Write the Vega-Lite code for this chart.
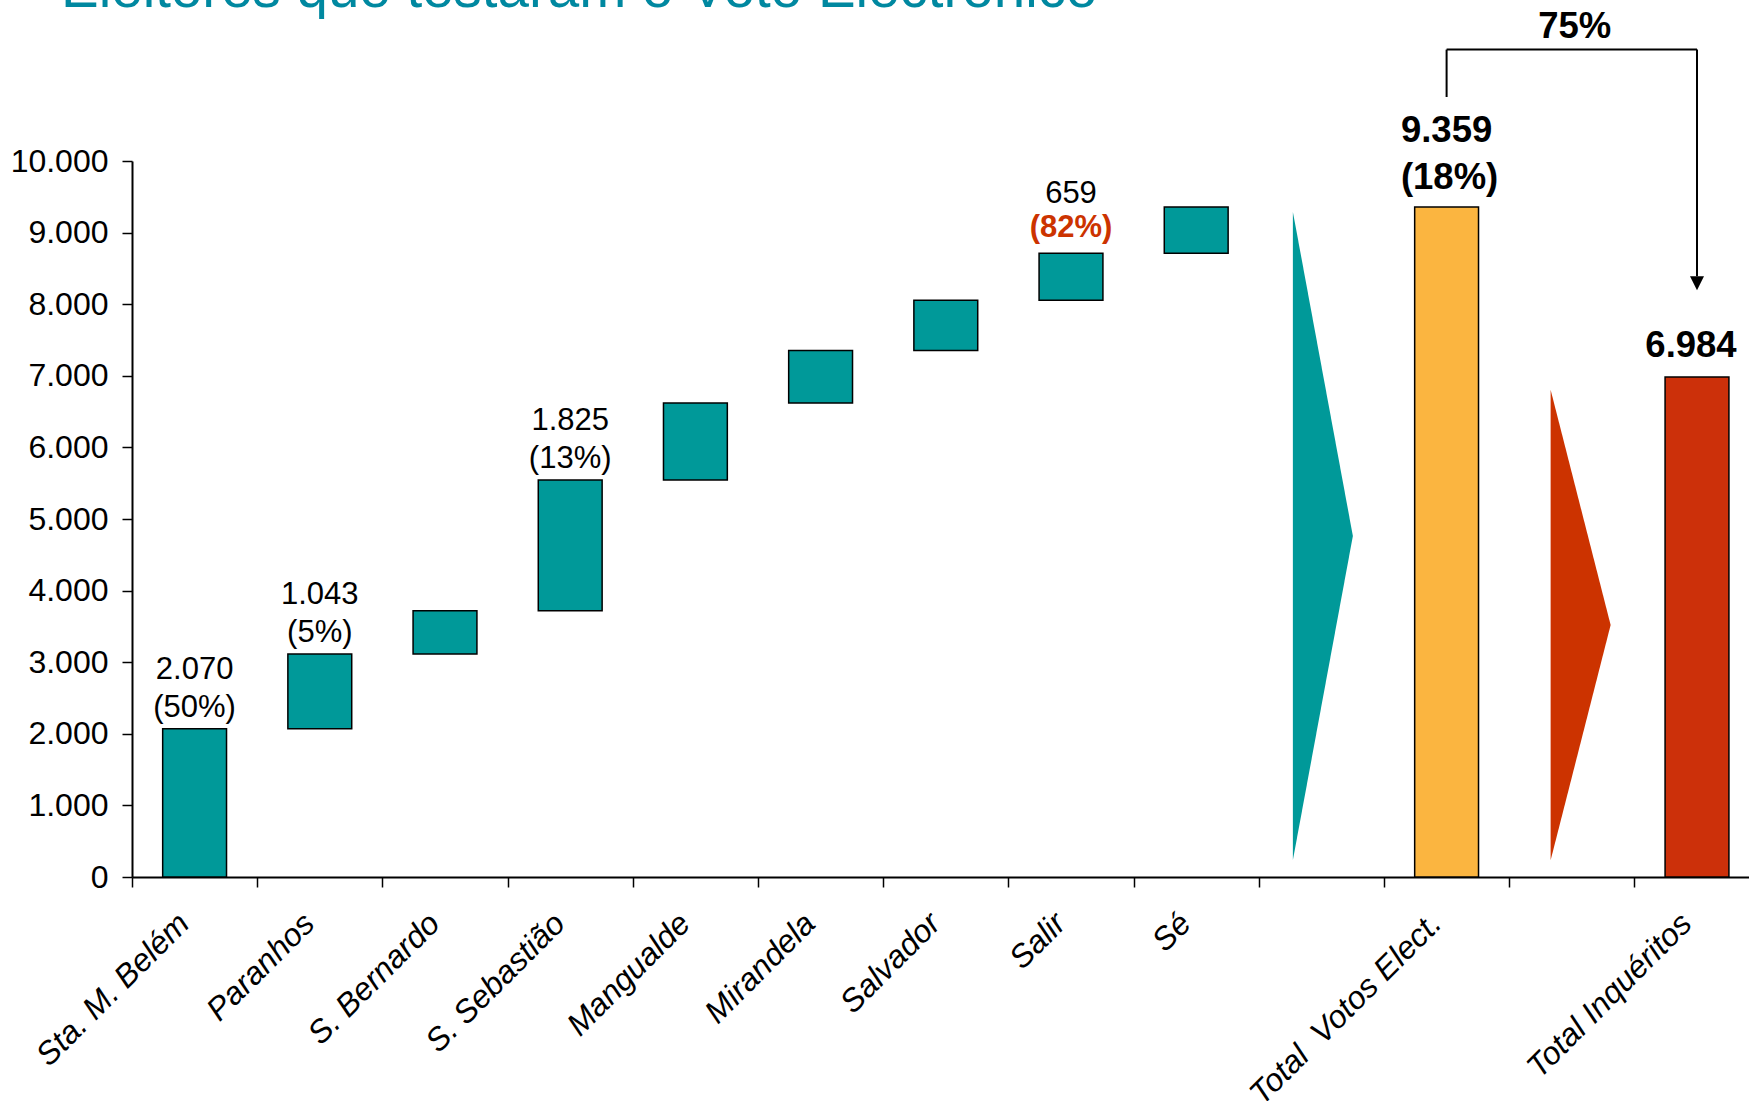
{
  "$schema": "https://vega.github.io/schema/vega-lite/v6.json",
  "autosize": "none",
  "width": 1617,
  "height": 716,
  "padding": {"left": 132, "top": 161, "right": 0, "bottom": 224},
  "background": "white",
  "title": {
    "text": "Eleitores que testaram o Voto Electrónico",
    "anchor": "start",
    "frame": "group",
    "dx": -71,
    "offset": -9,
    "fontSize": 56.5,
    "font": "Liberation Sans",
    "fontWeight": "normal",
    "color": "#0088A0"
  },
  "datasets": {
    "bars": [
      {"cat": "Sta. M. Belém", "start": 0, "end": 2070, "kind": "Distrito", "v": "2.070", "p": "(50%)"},
      {"cat": "Paranhos", "start": 2070, "end": 3113, "kind": "Distrito", "v": "1.043", "p": "(5%)"},
      {"cat": "S. Bernardo", "start": 3113, "end": 3720, "kind": "Distrito"},
      {"cat": "S. Sebastião", "start": 3720, "end": 5545, "kind": "Distrito", "v": "1.825", "p": "(13%)"},
      {"cat": "Mangualde", "start": 5545, "end": 6620, "kind": "Distrito"},
      {"cat": "Mirandela", "start": 6620, "end": 7353, "kind": "Distrito"},
      {"cat": "Salvador", "start": 7353, "end": 8054, "kind": "Distrito"},
      {"cat": "Salir", "start": 8054, "end": 8713, "kind": "Distrito", "v": "659", "p": "(82%)"},
      {"cat": "Sé", "start": 8713, "end": 9359, "kind": "Distrito"},
      {"cat": "Total \u00a0Votos Elect.", "start": 0, "end": 9359, "kind": "Total Votos", "v": "9.359", "p": "(18%)"},
      {"cat": "Total Inquéritos", "start": 0, "end": 6984, "kind": "Total Inquéritos", "v": "6.984"}
    ],
    "arrows": [
      {"cat": " ", "mid": 4763},
      {"cat": "  ", "mid": 3519}
    ],
    "bracket": [
      {"from": "Total \u00a0Votos Elect.", "to": "Total \u00a0Votos Elect.", "y1": 10894, "y2": 11556},
      {"from": "Total \u00a0Votos Elect.", "to": "Total Inquéritos", "y1": 11556, "y2": 11556},
      {"from": "Total Inquéritos", "to": "Total Inquéritos", "y1": 11556, "y2": 8390}
    ],
    "arrowhead": [{"cat": "Total Inquéritos", "y": 8292}],
    "ratio": [{"cat": "  ", "y": 11867, "t": "75%"}]
  },
  "layer": [
    {
      "data": {"name": "bars"},
      "mark": {"type": "bar", "stroke": "black", "strokeWidth": 1.5, "width": {"band": 0.51}},
      "encoding": {
        "x": {
          "field": "cat",
          "type": "nominal",
          "sort": null,
          "scale": {
            "domain": ["Sta. M. Belém", "Paranhos", "S. Bernardo", "S. Sebastião", "Mangualde", "Mirandela", "Salvador", "Salir", "Sé", " ", "Total \u00a0Votos Elect.", "  ", "Total Inquéritos"],
            "range": [0, 1627.6],
            "paddingInner": 0,
            "paddingOuter": 0
          },
          "axis": {
            "title": null,
            "tickBand": "extent",
            "labelAngle": -45,
            "labelAlign": "right",
            "labelBaseline": "middle",
            "labelPadding": 31,
            "labelOffset": -11,
            "labelFontSize": 32,
            "labelFontStyle": "italic",
            "labelFont": "Liberation Sans",
            "labelColor": "black",
            "labelLimit": 0,
            "labelOverlap": false,
            "domainColor": "black",
            "domainWidth": 2,
            "tickColor": "black",
            "tickWidth": 1.5,
            "tickSize": 10,
            "grid": false
          }
        },
        "y": {
          "field": "start",
          "type": "quantitative",
          "scale": {"domain": [0, 10000], "nice": false, "zero": true},
          "axis": {
            "title": null,
            "values": [0, 1000, 2000, 3000, 4000, 5000, 6000, 7000, 8000, 9000, 10000],
            "labelExpr": "replace(format(datum.value, ','), ',', '.')",
            "labelFontSize": 32,
            "labelFont": "Liberation Sans",
            "labelColor": "black",
            "labelPadding": 14,
            "domainColor": "black",
            "domainWidth": 2,
            "tickColor": "black",
            "tickWidth": 1.5,
            "tickSize": 10,
            "grid": false
          }
        },
        "y2": {"field": "end"},
        "color": {
          "field": "kind",
          "type": "nominal",
          "scale": {"domain": ["Distrito", "Total Votos", "Total Inquéritos"], "range": ["#009999", "#FBB540", "#CC300A"]},
          "legend": null
        }
      }
    },
    {
      "data": {"name": "bars"},
      "transform": [{"filter": "datum.kind == 'Distrito' && isValid(datum.v)"}],
      "mark": {"type": "text", "dy": -59, "fontSize": 31, "baseline": "middle", "color": "black", "font": "Liberation Sans"},
      "encoding": {
        "x": {"field": "cat", "type": "nominal", "sort": null},
        "y": {"field": "end", "type": "quantitative"},
        "text": {"field": "v"}
      }
    },
    {
      "data": {"name": "bars"},
      "transform": [{"filter": "datum.kind == 'Distrito' && isValid(datum.p) && datum.cat != 'Salir'"}],
      "mark": {"type": "text", "dy": -21, "fontSize": 31, "baseline": "middle", "color": "black", "font": "Liberation Sans"},
      "encoding": {
        "x": {"field": "cat", "type": "nominal", "sort": null},
        "y": {"field": "end", "type": "quantitative"},
        "text": {"field": "p"}
      }
    },
    {
      "data": {"name": "bars"},
      "transform": [{"filter": "datum.cat == 'Salir'"}],
      "mark": {"type": "text", "dy": -25, "fontSize": 31, "fontWeight": "bold", "baseline": "middle", "color": "#CC3300", "font": "Liberation Sans"},
      "encoding": {
        "x": {"field": "cat", "type": "nominal", "sort": null},
        "y": {"field": "end", "type": "quantitative"},
        "text": {"field": "p"}
      }
    },
    {
      "data": {"name": "bars"},
      "transform": [{"filter": "datum.kind == 'Total Votos'"}],
      "mark": {"type": "text", "dy": -76, "fontSize": 36.5, "fontWeight": "bold", "baseline": "middle", "color": "black", "font": "Liberation Sans"},
      "encoding": {
        "x": {"field": "cat", "type": "nominal", "sort": null},
        "y": {"field": "end", "type": "quantitative"},
        "text": {"field": "v"}
      }
    },
    {
      "data": {"name": "bars"},
      "transform": [{"filter": "datum.kind == 'Total Votos'"}],
      "mark": {"type": "text", "dy": -29, "dx": 3, "fontSize": 36.5, "fontWeight": "bold", "baseline": "middle", "color": "black", "font": "Liberation Sans"},
      "encoding": {
        "x": {"field": "cat", "type": "nominal", "sort": null},
        "y": {"field": "end", "type": "quantitative"},
        "text": {"field": "p"}
      }
    },
    {
      "data": {"name": "bars"},
      "transform": [{"filter": "datum.kind == 'Total Inquéritos'"}],
      "mark": {"type": "text", "dy": -31, "dx": -6, "fontSize": 36.5, "fontWeight": "bold", "baseline": "middle", "color": "black", "font": "Liberation Sans"},
      "encoding": {
        "x": {"field": "cat", "type": "nominal", "sort": null},
        "y": {"field": "end", "type": "quantitative"},
        "text": {"field": "v"}
      }
    },
    {
      "data": {"name": "arrows"},
      "transform": [{"filter": "datum.cat == ' '"}],
      "mark": {"type": "point", "shape": "M-0.088,-1L0.097,0L-0.088,1Z", "size": 420700, "filled": true, "color": "#009999", "opacity": 1, "strokeWidth": 0},
      "encoding": {
        "x": {"field": "cat", "type": "nominal", "sort": null},
        "y": {"field": "mid", "type": "quantitative"}
      }
    },
    {
      "data": {"name": "arrows"},
      "transform": [{"filter": "datum.cat == '  '"}],
      "mark": {"type": "point", "shape": "M-0.09,-1L0.165,0L-0.09,1Z", "size": 221460, "filled": true, "color": "#CC3300", "opacity": 1, "strokeWidth": 0},
      "encoding": {
        "x": {"field": "cat", "type": "nominal", "sort": null},
        "y": {"field": "mid", "type": "quantitative"}
      }
    },
    {
      "data": {"name": "bracket"},
      "mark": {"type": "rule", "color": "black", "strokeWidth": 2},
      "encoding": {
        "x": {"field": "from", "type": "nominal", "sort": null},
        "x2": {"field": "to"},
        "y": {"field": "y1", "type": "quantitative"},
        "y2": {"field": "y2"}
      }
    },
    {
      "data": {"name": "arrowhead"},
      "mark": {"type": "point", "shape": "M-1,-1L1,-1L0,1Z", "size": 196, "filled": true, "color": "black", "opacity": 1, "strokeWidth": 0},
      "encoding": {
        "x": {"field": "cat", "type": "nominal", "sort": null},
        "y": {"field": "y", "type": "quantitative"}
      }
    },
    {
      "data": {"name": "ratio"},
      "mark": {"type": "text", "fontSize": 36.5, "fontWeight": "bold", "baseline": "middle", "color": "black", "font": "Liberation Sans", "dx": 3},
      "encoding": {
        "x": {"field": "cat", "type": "nominal", "sort": null},
        "y": {"field": "y", "type": "quantitative"},
        "text": {"field": "t"}
      }
    }
  ],
  "config": {
    "font": "Liberation Sans",
    "view": {"stroke": null},
    "axis": {"title": null}
  }
}
